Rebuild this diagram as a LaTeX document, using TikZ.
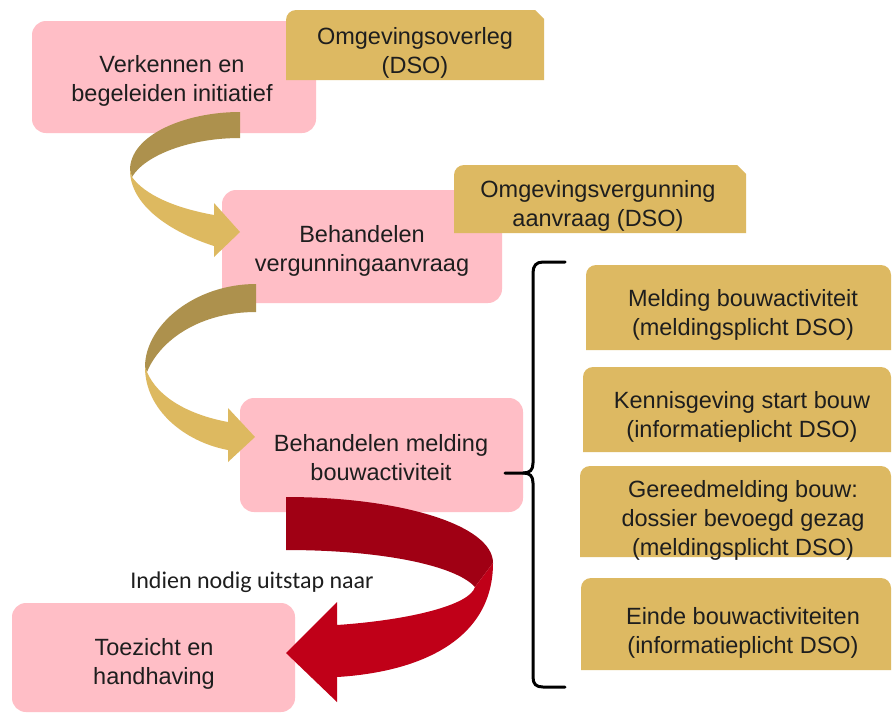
\documentclass[tikz,border=0pt]{standalone}
\usepackage{fontspec}
\setmainfont{Liberation Sans}
\newfontfamily\calfont{Carlito}
\definecolor{pinkc}{RGB}{255,190,198}
\definecolor{goldc}{RGB}{221,185,98}
\definecolor{darkgold}{RGB}{173,145,77}
\definecolor{lightgold}{RGB}{221,185,96}
\definecolor{darkred}{RGB}{160,0,20}
\definecolor{lightred}{RGB}{192,0,24}
\definecolor{txtc}{RGB}{30,30,30}
\begin{document}
\begin{tikzpicture}[x=1pt,y=-1pt,
  pinkbox/.style={fill=pinkc, rounded corners=14pt, inner sep=0pt},
  txt/.style={text=txtc, font=\fontsize{23.5}{29}\selectfont, align=center, inner sep=0pt},
  note/.style={text=txtc, font=\calfont\fontsize{24}{29}\selectfont, inner sep=0pt}
  ]
\useasboundingbox (0,0) rectangle (893,713);
\fill[white] (0,0) rectangle (893,713);

% pink process boxes
\node[pinkbox, minimum width=284pt, minimum height=112pt] (b1) at (174,77) {};
\node[pinkbox, minimum width=280pt, minimum height=113pt] (b2) at (362,246.5) {};
\node[pinkbox, minimum width=283pt, minimum height=114pt] (b3) at (381.5,455) {};
\node[pinkbox, minimum width=283pt, minimum height=109pt] (b4) at (153.5,657.5) {};

% gold boxes next to process boxes
\fill[goldc] (286,80) -- (286,20) .. controls (286,14.5) and (290.5,10) .. (296,10) -- (535,10) -- (544,19) -- (544,80) -- cycle;
\fill[goldc] (454,233) -- (454,175) .. controls (454,169.5) and (458.5,165) .. (464,165) -- (737,165) -- (746,174) -- (746,233) -- cycle;

% right-hand gold boxes
\fill[goldc] (586,350) -- (586,275) .. controls (586,269.5) and (590.5,265) .. (596,265) -- (881,265) .. controls (886.5,265) and (891,269.5) .. (891,275) -- (891,350) -- cycle;
\fill[goldc] (583,452) -- (583,377) .. controls (583,371.5) and (587.5,367) .. (593,367) -- (881,367) .. controls (886.5,367) and (891,371.5) .. (891,377) -- (891,452) -- cycle;
\fill[goldc] (580,557) -- (580,476) .. controls (580,470.5) and (584.5,466) .. (590,466) -- (881,466) .. controls (886.5,466) and (891,470.5) .. (891,476) -- (891,557) -- cycle;
\fill[goldc] (581,670) -- (581,588) .. controls (581,582.5) and (585.5,578) .. (591,578) -- (881,578) .. controls (886.5,578) and (891,582.5) .. (891,588) -- (891,670) -- cycle;

% texts
\node[txt] (t1) at (172,81) {Verkennen en\\begeleiden initiatief};
\node[txt] (tA) at (415,53) {Omgevingsoverleg\\(DSO)};
\node[txt] (tB) at (598,206) {Omgevingsvergunning\\aanvraag (DSO)};
\node[txt] (t2) at (362,251) {Behandelen\\vergunningaanvraag};
\node[txt] (t3) at (381,458) {Behandelen melding\\bouwactiviteit};
\node[txt] (t4) at (154,664) {Toezicht en\\handhaving};
\node[txt] (tC) at (743,315) {Melding bouwactiviteit\\(meldingsplicht DSO)};
\node[txt] (tD) at (742,417) {Kennisgeving start bouw\\(informatieplicht DSO)};
\node[txt] (tE) at (743,520) {Gereedmelding bouw:\\dossier bevoegd gezag\\(meldingsplicht DSO)};
\node[txt] (tF) at (743,633) {Einde bouwactiviteiten\\(informatieplicht DSO)};
\node[note] (ind) at (252,582) {Indien nodig uitstap naar};

% curved arrow 1 (b1 -> b2)
\fill[darkgold] (240,112) .. controls (185,112) and (130,135) .. (130,170) -- (132,177) .. controls (145,155) and (190,138) .. (240,138) -- cycle;
\fill[lightgold] (130,170) .. controls (130,205) and (170,232) .. (214,246) -- (214,257) -- (240,232) -- (214,203) -- (214,215) .. controls (175,208) and (145,195) .. (132,177) -- cycle;

% curved arrow 2 (b2 -> b3)
\fill[darkgold] (256,284) .. controls (195,284) and (145,325) .. (145,367) -- (147,372) .. controls (160,340) and (200,312) .. (256,312) -- cycle;
\fill[lightgold] (145,367) .. controls (145,410) and (185,442) .. (228,450) -- (228,462) -- (255,437) -- (228,408) -- (228,422) .. controls (190,415) and (158,398) .. (147,372) -- cycle;

% curved arrow 3 (b3 -> b4)
\fill[darkred] (286,497) .. controls (400,497) and (493,525) .. (493,563) -- (475,587) .. controls (455,565) and (380,550) .. (286,550) -- cycle;
\fill[lightred] (493,563) .. controls (493,640) and (420,672) .. (337,677) -- (337,702) -- (286,653) -- (337,602) -- (337,625) .. controls (410,620) and (470,605) .. (475,587) -- cycle;

% brace
\coordinate (brtip) at (505,473);
\draw[line width=3pt, line cap=round, line join=round, black]
  (565,262) -- (543,262) .. controls (536,262) and (533,266) .. (533,273)
  -- (533,463) .. controls (533,470) and (530,473) .. (523,473) -- (brtip);
\draw[line width=3pt, line cap=round, line join=round, black]
  (523,473) .. controls (530,473) and (533,476) .. (533,483)
  -- (533,677) .. controls (533,684) and (536,687) .. (543,687) -- (565,687);
\end{tikzpicture}
\end{document}
